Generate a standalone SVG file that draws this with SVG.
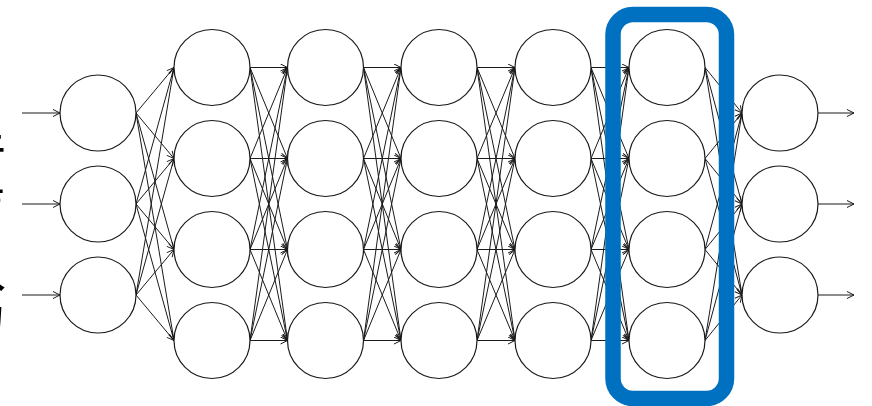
<svg xmlns="http://www.w3.org/2000/svg" width="872" height="406" viewBox="0 0 872 406">
<style>
.n{fill:#fff;stroke:#1a1a1a;stroke-width:1.2}
.c line{stroke:#1a1a1a;stroke-width:1;marker-end:url(#ah)}
.lbl{font-family:"Noto Sans CJK JP","Noto Sans",sans-serif;font-size:55px;fill:#000;writing-mode:vertical-rl}
</style>
<defs>
<marker id="ah" markerUnits="userSpaceOnUse" markerWidth="10" markerHeight="10" refX="8" refY="4" orient="auto">
<path d="M1,0.5 L8,4 L1,7.5" fill="none" stroke="#1a1a1a" stroke-width="1"/>
</marker>
</defs>
<rect width="872" height="406" fill="#fff"/>
<g id="label">
<text class="lbl" x="-21" y="128">音声入力</text>
</g>
<g id="connectors" class="c">
<line x1="22" y1="113" x2="60" y2="113"/>
<line x1="22" y1="204" x2="60" y2="204"/>
<line x1="22" y1="295" x2="60" y2="295"/>
<line x1="136" y1="113" x2="174" y2="67.5"/>
<line x1="136" y1="113" x2="174" y2="158.5"/>
<line x1="136" y1="113" x2="174" y2="249.5"/>
<line x1="136" y1="113" x2="174" y2="340.5"/>
<line x1="136" y1="204" x2="174" y2="67.5"/>
<line x1="136" y1="204" x2="174" y2="158.5"/>
<line x1="136" y1="204" x2="174" y2="249.5"/>
<line x1="136" y1="204" x2="174" y2="340.5"/>
<line x1="136" y1="295" x2="174" y2="67.5"/>
<line x1="136" y1="295" x2="174" y2="158.5"/>
<line x1="136" y1="295" x2="174" y2="249.5"/>
<line x1="136" y1="295" x2="174" y2="340.5"/>
<line x1="250" y1="67.5" x2="287.5" y2="67.5"/>
<line x1="250" y1="67.5" x2="287.5" y2="158.5"/>
<line x1="250" y1="67.5" x2="287.5" y2="249.5"/>
<line x1="250" y1="67.5" x2="287.5" y2="340.5"/>
<line x1="250" y1="158.5" x2="287.5" y2="67.5"/>
<line x1="250" y1="158.5" x2="287.5" y2="158.5"/>
<line x1="250" y1="158.5" x2="287.5" y2="249.5"/>
<line x1="250" y1="158.5" x2="287.5" y2="340.5"/>
<line x1="250" y1="249.5" x2="287.5" y2="67.5"/>
<line x1="250" y1="249.5" x2="287.5" y2="158.5"/>
<line x1="250" y1="249.5" x2="287.5" y2="249.5"/>
<line x1="250" y1="249.5" x2="287.5" y2="340.5"/>
<line x1="250" y1="340.5" x2="287.5" y2="67.5"/>
<line x1="250" y1="340.5" x2="287.5" y2="158.5"/>
<line x1="250" y1="340.5" x2="287.5" y2="249.5"/>
<line x1="250" y1="340.5" x2="287.5" y2="340.5"/>
<line x1="363.5" y1="67.5" x2="401" y2="67.5"/>
<line x1="363.5" y1="67.5" x2="401" y2="158.5"/>
<line x1="363.5" y1="67.5" x2="401" y2="249.5"/>
<line x1="363.5" y1="67.5" x2="401" y2="340.5"/>
<line x1="363.5" y1="158.5" x2="401" y2="67.5"/>
<line x1="363.5" y1="158.5" x2="401" y2="158.5"/>
<line x1="363.5" y1="158.5" x2="401" y2="249.5"/>
<line x1="363.5" y1="158.5" x2="401" y2="340.5"/>
<line x1="363.5" y1="249.5" x2="401" y2="67.5"/>
<line x1="363.5" y1="249.5" x2="401" y2="158.5"/>
<line x1="363.5" y1="249.5" x2="401" y2="249.5"/>
<line x1="363.5" y1="249.5" x2="401" y2="340.5"/>
<line x1="363.5" y1="340.5" x2="401" y2="67.5"/>
<line x1="363.5" y1="340.5" x2="401" y2="158.5"/>
<line x1="363.5" y1="340.5" x2="401" y2="249.5"/>
<line x1="363.5" y1="340.5" x2="401" y2="340.5"/>
<line x1="477" y1="67.5" x2="515" y2="67.5"/>
<line x1="477" y1="67.5" x2="515" y2="158.5"/>
<line x1="477" y1="67.5" x2="515" y2="249.5"/>
<line x1="477" y1="67.5" x2="515" y2="340.5"/>
<line x1="477" y1="158.5" x2="515" y2="67.5"/>
<line x1="477" y1="158.5" x2="515" y2="158.5"/>
<line x1="477" y1="158.5" x2="515" y2="249.5"/>
<line x1="477" y1="158.5" x2="515" y2="340.5"/>
<line x1="477" y1="249.5" x2="515" y2="67.5"/>
<line x1="477" y1="249.5" x2="515" y2="158.5"/>
<line x1="477" y1="249.5" x2="515" y2="249.5"/>
<line x1="477" y1="249.5" x2="515" y2="340.5"/>
<line x1="477" y1="340.5" x2="515" y2="67.5"/>
<line x1="477" y1="340.5" x2="515" y2="158.5"/>
<line x1="477" y1="340.5" x2="515" y2="249.5"/>
<line x1="477" y1="340.5" x2="515" y2="340.5"/>
<line x1="591" y1="67.5" x2="629" y2="67.5"/>
<line x1="591" y1="67.5" x2="629" y2="158.5"/>
<line x1="591" y1="67.5" x2="629" y2="249.5"/>
<line x1="591" y1="67.5" x2="629" y2="340.5"/>
<line x1="591" y1="158.5" x2="629" y2="67.5"/>
<line x1="591" y1="158.5" x2="629" y2="158.5"/>
<line x1="591" y1="158.5" x2="629" y2="249.5"/>
<line x1="591" y1="158.5" x2="629" y2="340.5"/>
<line x1="591" y1="249.5" x2="629" y2="67.5"/>
<line x1="591" y1="249.5" x2="629" y2="158.5"/>
<line x1="591" y1="249.5" x2="629" y2="249.5"/>
<line x1="591" y1="249.5" x2="629" y2="340.5"/>
<line x1="591" y1="340.5" x2="629" y2="67.5"/>
<line x1="591" y1="340.5" x2="629" y2="158.5"/>
<line x1="591" y1="340.5" x2="629" y2="249.5"/>
<line x1="591" y1="340.5" x2="629" y2="340.5"/>
<line x1="705" y1="67.5" x2="742" y2="113"/>
<line x1="705" y1="67.5" x2="742" y2="204"/>
<line x1="705" y1="67.5" x2="742" y2="295"/>
<line x1="705" y1="158.5" x2="742" y2="113"/>
<line x1="705" y1="158.5" x2="742" y2="204"/>
<line x1="705" y1="158.5" x2="742" y2="295"/>
<line x1="705" y1="249.5" x2="742" y2="113"/>
<line x1="705" y1="249.5" x2="742" y2="204"/>
<line x1="705" y1="249.5" x2="742" y2="295"/>
<line x1="705" y1="340.5" x2="742" y2="113"/>
<line x1="705" y1="340.5" x2="742" y2="204"/>
<line x1="705" y1="340.5" x2="742" y2="295"/>
<line x1="818" y1="113" x2="854" y2="113"/>
<line x1="818" y1="204" x2="854" y2="204"/>
<line x1="818" y1="295" x2="854" y2="295"/>
</g>
<g id="input-layer">
<circle id="in1" class="n" cx="98" cy="113" r="38"/>
<circle id="in2" class="n" cx="98" cy="204" r="38"/>
<circle id="in3" class="n" cx="98" cy="295" r="38"/>
</g>
<g id="hidden-1">
<circle id="h1a" class="n" cx="212" cy="67.5" r="38"/>
<circle id="h1b" class="n" cx="212" cy="158.5" r="38"/>
<circle id="h1c" class="n" cx="212" cy="249.5" r="38"/>
<circle id="h1d" class="n" cx="212" cy="340.5" r="38"/>
</g>
<g id="hidden-2">
<circle id="h2a" class="n" cx="325.5" cy="67.5" r="38"/>
<circle id="h2b" class="n" cx="325.5" cy="158.5" r="38"/>
<circle id="h2c" class="n" cx="325.5" cy="249.5" r="38"/>
<circle id="h2d" class="n" cx="325.5" cy="340.5" r="38"/>
</g>
<g id="hidden-3">
<circle id="h3a" class="n" cx="439" cy="67.5" r="38"/>
<circle id="h3b" class="n" cx="439" cy="158.5" r="38"/>
<circle id="h3c" class="n" cx="439" cy="249.5" r="38"/>
<circle id="h3d" class="n" cx="439" cy="340.5" r="38"/>
</g>
<g id="hidden-4">
<circle id="h4a" class="n" cx="553" cy="67.5" r="38"/>
<circle id="h4b" class="n" cx="553" cy="158.5" r="38"/>
<circle id="h4c" class="n" cx="553" cy="249.5" r="38"/>
<circle id="h4d" class="n" cx="553" cy="340.5" r="38"/>
</g>
<g id="hidden-5">
<circle id="h5a" class="n" cx="667" cy="67.5" r="38"/>
<circle id="h5b" class="n" cx="667" cy="158.5" r="38"/>
<circle id="h5c" class="n" cx="667" cy="249.5" r="38"/>
<circle id="h5d" class="n" cx="667" cy="340.5" r="38"/>
</g>
<g id="output-layer">
<circle id="o1" class="n" cx="780" cy="113" r="38"/>
<circle id="o2" class="n" cx="780" cy="204" r="38"/>
<circle id="o3" class="n" cx="780" cy="295" r="38"/>
</g>
<g id="highlight">
<rect x="613" y="14.5" width="113.5" height="384" rx="20" ry="20" fill="none" stroke="#0070C0" stroke-width="15.5"/>
</g>
</svg>
